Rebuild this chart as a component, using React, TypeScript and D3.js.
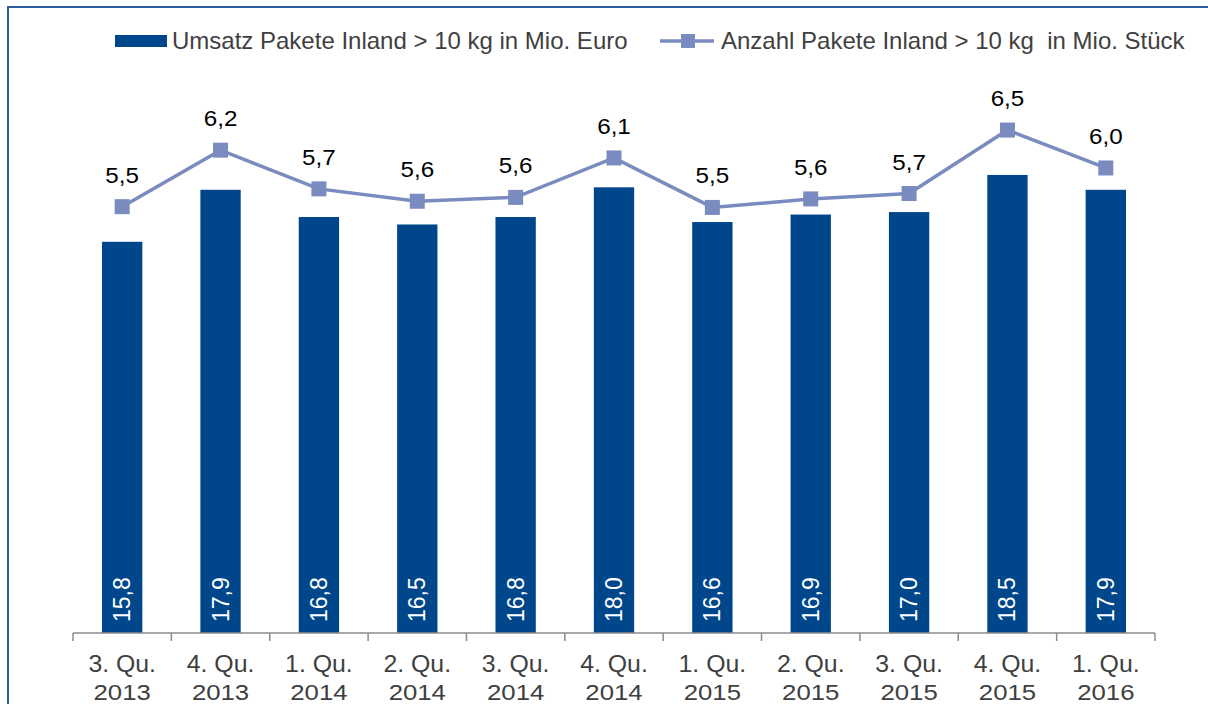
import React from "react";
import * as d3 from "d3";

const categories = [
  ["3. Qu.", "2013"], ["4. Qu.", "2013"], ["1. Qu.", "2014"], ["2. Qu.", "2014"],
  ["3. Qu.", "2014"], ["4. Qu.", "2014"], ["1. Qu.", "2015"], ["2. Qu.", "2015"],
  ["3. Qu.", "2015"], ["4. Qu.", "2015"], ["1. Qu.", "2016"],
];
const umsatz = [15.8, 17.9, 16.8, 16.5, 16.8, 18.0, 16.6, 16.9, 17.0, 18.5, 17.9];
const anzahl = [5.51, 6.24, 5.74, 5.58, 5.63, 6.14, 5.5, 5.61, 5.68, 6.5, 6.01];
const legendBar = "Umsatz Pakete Inland > 10 kg in Mio. Euro";
const legendLine = "Anzahl Pakete Inland > 10 kg  in Mio. Stück";

const W = 1208, H = 704;
const FONT = "'Liberation Sans', Arial, sans-serif";
const BAR = "#00468b";
const LINE = "#7a8bbf";
const fmt = (v: number) => v.toFixed(1).replace(".", ",");

export default function App() {
  const left = 73, right = 1155, bottom = 633, top = 14;
  const x = d3.scaleBand<number>().domain(d3.range(categories.length)).range([left, right]).paddingInner(0).paddingOuter(0);
  const y1 = d3.scaleLinear().domain([0, 25]).range([bottom, top]);
  const y2 = d3.scaleLinear().domain([0, 8]).range([bottom, top]);
  const bw = x.bandwidth() * 0.41;
  const cx = (i: number) => (x(i) as number) + x.bandwidth() / 2;
  const line = d3.line<number>().x((_, i) => cx(i)).y((d) => y2(d));
  const ticks = d3.range(categories.length + 1).map((i) => left + i * x.bandwidth());
  const ms = 15;

  return (
    <svg width={W} height={H} style={{ position: "absolute", left: 0, top: 0, background: "#fff" }} fontFamily={FONT}>
      <rect x={8} y={7} width={W + 20} height={H + 20} fill="none" stroke="#2a5d9a" strokeWidth={2} />
      {/* legend */}
      <rect x={115} y={35} width={52} height={12} fill={BAR} />
      <text x={172} y={49} fontSize={24} fill="#404040">{legendBar}</text>
      <line x1={660} x2={714} y1={41} y2={41} stroke={LINE} strokeWidth={3.5} />
      <rect x={688 - 7} y={41 - 7} width={14} height={14} fill={LINE} />
      <text x={721} y={49} fontSize={24} fill="#404040" style={{ whiteSpace: "pre" }}>{legendLine}</text>

      {/* bars */}
      {umsatz.map((v, i) => (
        <g key={"b" + i}>
          <rect x={cx(i) - bw / 2} y={y1(v)} width={bw} height={bottom - y1(v)} fill={BAR} />
          <text
            transform={`translate(${cx(i)},${bottom - 11}) rotate(-90)`}
            fontSize={23}
            fill="#fff"
            dominantBaseline="central"
          >{fmt(v)}</text>
        </g>
      ))}

      {/* axis */}
      <line x1={left} x2={right} y1={bottom} y2={bottom} stroke="#8c8c8c" strokeWidth={1.5} />
      {ticks.map((t, i) => (
        <line key={"t" + i} x1={t} x2={t} y1={bottom} y2={bottom + 8} stroke="#8c8c8c" strokeWidth={1.5} />
      ))}
      {categories.map((c, i) => (
        <g key={"c" + i} fontSize={23} fill="#404040" textAnchor="middle">
          <text transform={`translate(${cx(i)},672) scale(1.08,1)`}>{c[0]}</text>
          <text transform={`translate(${cx(i)},700) scale(1.12,1)`}>{c[1]}</text>
        </g>
      ))}

      {/* line */}
      <path d={line(anzahl) || ""} fill="none" stroke={LINE} strokeWidth={3.5} />
      {anzahl.map((v, i) => (
        <g key={"m" + i}>
          <rect x={cx(i) - ms / 2} y={y2(v) - ms / 2} width={ms} height={ms} fill={LINE} />
          <text transform={`translate(${cx(i)},${y2(v) - 24}) scale(1.1,1)`} fontSize={22} fill="#000" textAnchor="middle">{fmt(v)}</text>
        </g>
      ))}
    </svg>
  );
}
